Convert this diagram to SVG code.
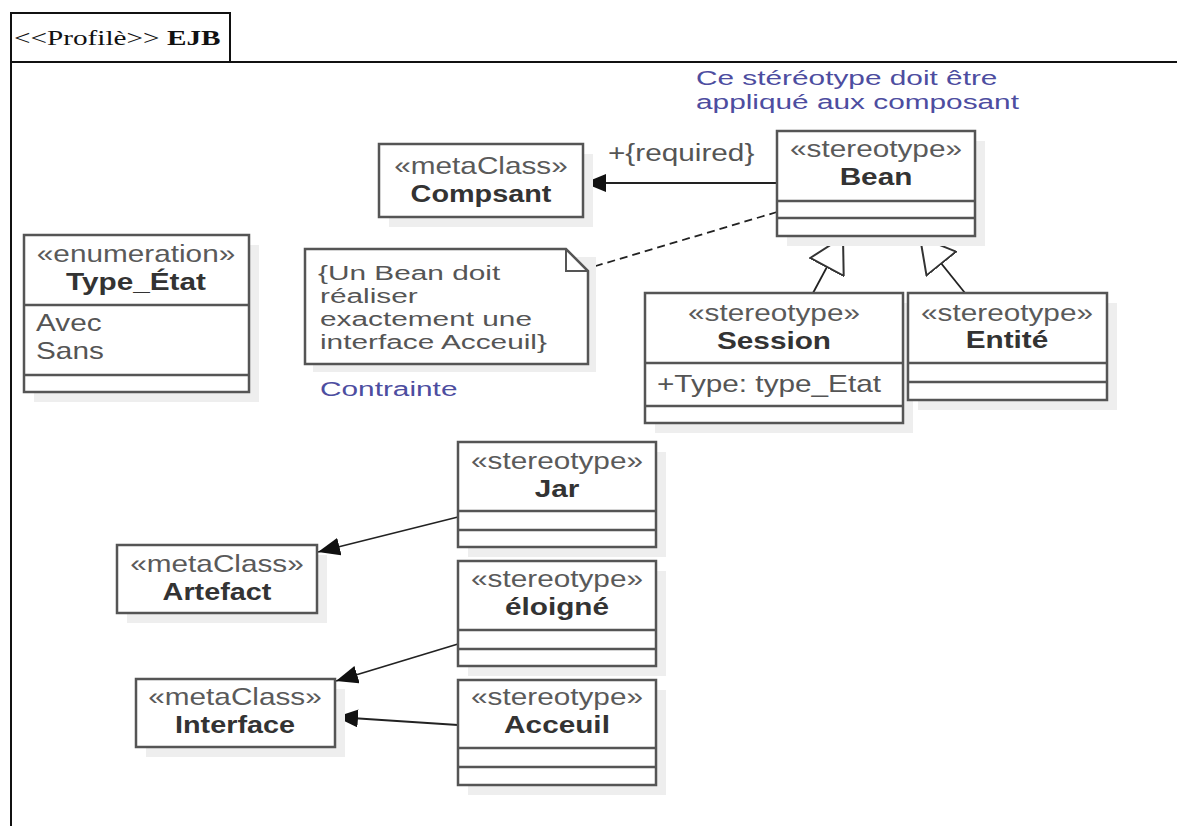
<svg xmlns="http://www.w3.org/2000/svg" width="1177" height="826" viewBox="0 0 1177 826">
  <style>
    .box { fill: #ffffff; stroke: #555555; stroke-width: 2.5; }
    .shadow { fill: #eeeeee; }
    .sep { stroke: #555555; stroke-width: 2.5; }
    .st { font-family: "Liberation Sans", Arial, sans-serif; font-size: 24px; fill: #5a5a5a; text-anchor: middle; }
    .nm { font-family: "Liberation Sans", Arial, sans-serif; font-size: 24px; font-weight: bold; fill: #333333; text-anchor: middle; }
    .at { font-family: "Liberation Sans", Arial, sans-serif; font-size: 24px; fill: #555555; }
    .nt { font-family: "Liberation Sans", Arial, sans-serif; font-size: 21px; fill: #555555; }
    .blue { font-family: "Liberation Sans", Arial, sans-serif; font-size: 21px; fill: #4d4da0; }
    .edge { stroke: #222222; stroke-width: 1.8; fill: none; }
    .frame { stroke: #111111; stroke-width: 2; fill: none; }
  </style>
  <defs>
    <marker id="filled" viewBox="0 0 22 18" refX="22" refY="9" markerWidth="22" markerHeight="18" markerUnits="userSpaceOnUse" orient="auto">
      <path d="M0,0 L22,9 L0,18 Z" fill="#111111"/>
    </marker>
    <marker id="hollow" viewBox="0 0 36 40" refX="35" refY="20" markerWidth="36" markerHeight="40" markerUnits="userSpaceOnUse" orient="auto">
      <path d="M1,1 L35,20 L1,39 Z" fill="#ffffff" stroke="#333333" stroke-width="2"/>
    </marker>
  </defs>

  <rect width="1177" height="826" fill="#ffffff"/>

  <!-- profile frame with its name tab -->
  <g id="frame">
    <path class="frame" d="M11,826 L11,62 L1177,62"/>
    <rect class="frame" x="11" y="13" width="219" height="49"/>
    <text transform="translate(14,45) scale(1.33,1)" font-family="Liberation Serif, Times New Roman, serif" font-size="22" fill="#111111">&lt;&lt;Profilè&gt;&gt; <tspan font-weight="bold">EJB</tspan></text>
  </g>

  <!-- connectors -->
  <g id="connectors">
    <line class="edge" x1="777" y1="183" x2="584" y2="183" marker-end="url(#filled)"/>
    <text transform="translate(608,161) scale(1.24,1)" class="at">+{required}</text>
    <line class="edge" x1="777" y1="212" x2="589" y2="268" stroke-dasharray="8,5"/>
    <line class="edge" x1="813" y1="293" x2="843" y2="237" marker-end="url(#hollow)"/>
    <line class="edge" x1="965" y1="293" x2="920" y2="237" marker-end="url(#hollow)"/>
    <line class="edge" x1="458" y1="517" x2="318" y2="552" marker-end="url(#filled)"/>
    <line class="edge" x1="458" y1="644" x2="336" y2="681" marker-end="url(#filled)"/>
    <line class="edge" x1="458" y1="725" x2="336" y2="717" marker-end="url(#filled)"/>
  </g>

  <!-- free comment above Bean -->
  <g id="comment-stereo">
    <text transform="translate(696,85) scale(1.42,1)" class="blue">Ce stéréotype doit être</text>
    <text transform="translate(696,109) scale(1.42,1)" class="blue">appliqué aux composant</text>
  </g>

  <g id="compsant">
    <rect class="shadow" x="389" y="154" width="204" height="73"/>
    <rect class="box" x="379" y="144" width="204" height="73"/>
    <text transform="translate(481,174) scale(1.24,1)" class="st">«metaClass»</text>
    <text transform="translate(481,202) scale(1.2,1)" class="nm">Compsant</text>
  </g>

  <g id="bean">
    <rect class="shadow" x="787" y="141" width="198" height="105"/>
    <rect class="box" x="777" y="131" width="198" height="105"/>
    <text transform="translate(876,157) scale(1.24,1)" class="st">«stereotype»</text>
    <text transform="translate(876,185) scale(1.24,1)" class="nm">Bean</text>
    <line class="sep" x1="777" y1="201" x2="975" y2="201"/>
    <line class="sep" x1="777" y1="218" x2="975" y2="218"/>
  </g>

  <g id="type-etat">
    <rect class="shadow" x="34" y="245" width="225" height="157"/>
    <rect class="box" x="24" y="235" width="225" height="157"/>
    <text transform="translate(136,262) scale(1.24,1)" class="st">«enumeration»</text>
    <text transform="translate(136,290) scale(1.24,1)" class="nm">Type_État</text>
    <line class="sep" x1="24" y1="305" x2="249" y2="305"/>
    <text transform="translate(36,331) scale(1.24,1)" class="at">Avec</text>
    <text transform="translate(36,359) scale(1.24,1)" class="at">Sans</text>
    <line class="sep" x1="24" y1="375" x2="249" y2="375"/>
  </g>

  <g id="note">
    <rect class="shadow" x="313" y="257" width="283" height="115"/>
    <path class="box" d="M305,249 L566,249 L588,271 L588,364 L305,364 Z"/>
    <path d="M566,249 L566,271 L588,271" fill="none" stroke="#555555" stroke-width="2"/>
    <text transform="translate(318,280) scale(1.42,1)" class="nt">{Un Bean doit</text>
    <text transform="translate(320,303) scale(1.42,1)" class="nt">réaliser</text>
    <text transform="translate(320,326) scale(1.42,1)" class="nt">exactement une</text>
    <text transform="translate(320,349) scale(1.42,1)" class="nt">interface Acceuil}</text>
    <text transform="translate(320,396) scale(1.42,1)" class="blue">Contrainte</text>
  </g>

  <g id="session">
    <rect class="shadow" x="655" y="303" width="258" height="130"/>
    <rect class="box" x="645" y="293" width="258" height="130"/>
    <text transform="translate(774,321) scale(1.24,1)" class="st">«stereotype»</text>
    <text transform="translate(774,349) scale(1.24,1)" class="nm">Session</text>
    <line class="sep" x1="645" y1="363" x2="903" y2="363"/>
    <text transform="translate(657,392) scale(1.24,1)" class="at">+Type: type_Etat</text>
    <line class="sep" x1="645" y1="406" x2="903" y2="406"/>
  </g>

  <g id="entite">
    <rect class="shadow" x="918" y="303" width="199" height="107"/>
    <rect class="box" x="908" y="293" width="199" height="107"/>
    <text transform="translate(1007,321) scale(1.24,1)" class="st">«stereotype»</text>
    <text transform="translate(1007,348) scale(1.24,1)" class="nm">Entité</text>
    <line class="sep" x1="908" y1="363" x2="1107" y2="363"/>
    <line class="sep" x1="908" y1="382" x2="1107" y2="382"/>
  </g>

  <g id="jar">
    <rect class="shadow" x="468" y="452" width="198" height="105"/>
    <rect class="box" x="458" y="442" width="198" height="105"/>
    <text transform="translate(557,469) scale(1.24,1)" class="st">«stereotype»</text>
    <text transform="translate(557,497) scale(1.24,1)" class="nm">Jar</text>
    <line class="sep" x1="458" y1="511" x2="656" y2="511"/>
    <line class="sep" x1="458" y1="530" x2="656" y2="530"/>
  </g>

  <g id="artefact">
    <rect class="shadow" x="127" y="555" width="200" height="68"/>
    <rect class="box" x="117" y="545" width="200" height="68"/>
    <text transform="translate(217,572) scale(1.24,1)" class="st">«metaClass»</text>
    <text transform="translate(217,600) scale(1.2,1)" class="nm">Artefact</text>
  </g>

  <g id="eloigne">
    <rect class="shadow" x="468" y="571" width="198" height="105"/>
    <rect class="box" x="458" y="561" width="198" height="105"/>
    <text transform="translate(557,587) scale(1.24,1)" class="st">«stereotype»</text>
    <text transform="translate(557,615) scale(1.24,1)" class="nm">éloigné</text>
    <line class="sep" x1="458" y1="630" x2="656" y2="630"/>
    <line class="sep" x1="458" y1="649" x2="656" y2="649"/>
  </g>

  <g id="interface">
    <rect class="shadow" x="146" y="689" width="199" height="68"/>
    <rect class="box" x="136" y="679" width="199" height="68"/>
    <text transform="translate(235,705) scale(1.24,1)" class="st">«metaClass»</text>
    <text transform="translate(235,733) scale(1.2,1)" class="nm">Interface</text>
  </g>

  <g id="acceuil">
    <rect class="shadow" x="468" y="690" width="198" height="105"/>
    <rect class="box" x="458" y="680" width="198" height="105"/>
    <text transform="translate(557,705) scale(1.24,1)" class="st">«stereotype»</text>
    <text transform="translate(557,733) scale(1.24,1)" class="nm">Acceuil</text>
    <line class="sep" x1="458" y1="748" x2="656" y2="748"/>
    <line class="sep" x1="458" y1="767" x2="656" y2="767"/>
  </g>
</svg>
